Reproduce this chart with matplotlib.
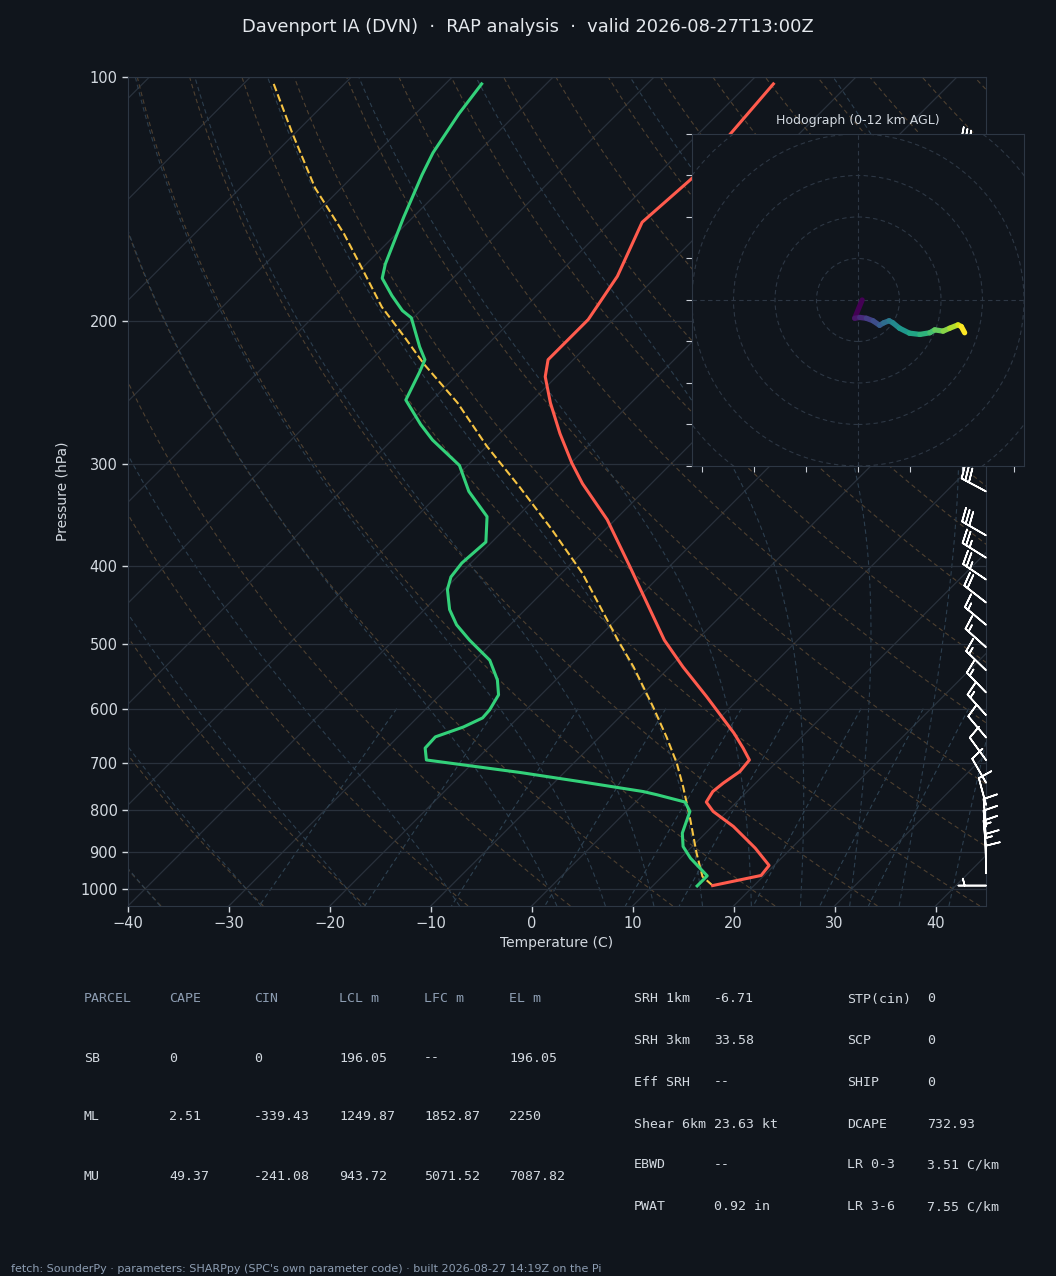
import numpy as np
import matplotlib
matplotlib.use('Agg')
import matplotlib.pyplot as plt
import matplotlib.transforms as mtransforms
from matplotlib.collections import LineCollection

# ---- sounding ----
t_pres = [102, 133, 151, 176, 199, 223, 234, 252, 275, 299, 317, 351, 401, 449, 494,
          533, 580, 643, 671, 694, 717, 741, 759, 782, 803, 838, 891, 936, 963, 991]
t_temp = [-57.5, -56.2, -56.8, -53.9, -52.5, -52.5, -51.1, -48.0, -44.0, -39.9, -36.8, -30.8,
          -23.9, -18.1, -13.2, -8.7, -3.4, 2.9, 5.3, 7.1, 7.3, 6.8, 6.6, 7.0, 8.6, 12.1,
          16.4, 19.5, 19.7, 15.9]

td_pres = [102, 111, 124, 132, 149, 170, 177, 186, 194, 198, 215, 223, 231, 250, 268, 280,
           301, 324, 348, 374, 397, 413, 428, 453, 473, 494, 523, 553, 577, 602, 616, 632,
           650, 671, 694, 719, 738, 759, 766, 782, 803, 854, 887, 917, 943, 964, 992]
td_temp = [-86.4, -85.7, -84.4, -83.3, -80.9, -78.1, -77.0, -74.3, -71.8, -70.2, -66.5,
           -64.7, -64.0, -62.6, -58.7, -56.0, -50.8, -47.3, -43.0, -40.6, -40.9, -40.6,
           -39.7, -37.5, -35.3, -32.5, -28.5, -25.8, -24.2, -23.6, -23.5, -24.5, -26.3,
           -26.2, -24.9, -14.4, -7.5, -0.3, 1.4, 4.9, 6.3, 7.7, 9.1, 11.0, 12.9, 14.4, 14.4]

parcel_pres = [102, 117, 137, 156, 174, 192, 209, 226, 252, 285, 320, 361, 409, 494, 533,
               597, 650, 700, 749, 815, 904, 966, 991]
parcel_temp = [-107.0, -100.4, -92.6, -85.2, -79.4, -74.2, -69.0, -64.3, -57.2, -50.0,
               -42.7, -35.3, -27.9, -17.8, -13.6, -7.7, -3.4, 0.2, 3.2, 6.8, 11.1, 14.0, 15.9]

# wind barbs (kt)
barb_pres = [124, 138, 153, 170, 190, 212, 236, 262, 290, 324, 367, 391, 416, 444, 473,
             504, 538, 573, 611, 651, 694, 740, 788, 838, 866, 891, 926, 957, 991]
barb_dir = [295, 295, 295, 295, 295, 295, 295, 295, 297, 298, 300, 302, 304, 308, 310,
            312, 314, 316, 318, 320, 324, 330, 345, 355, 355, 355, 358, 0, 270]
barb_spd = [30, 30, 30, 30, 30, 30, 30, 30, 30, 30, 30, 25, 25, 20, 15,
            15, 15, 15, 15, 10, 10, 10, 10, 10, 10, 15, 15, 10, 5]

# hodograph (0-12 km)
hodo_u = [1.0, -0.8, 0.4, 2.0, 3.6, 5.2, 6.2, 7.5, 8.4, 10.0, 12.4, 14.9, 17.3, 18.5,
          20.5, 22.1, 24.1, 24.9, 25.7]
hodo_v = [0.0, -4.4, -4.2, -4.4, -5.0, -6.1, -5.5, -5.0, -5.5, -6.8, -8.0, -8.3, -7.9,
          -7.2, -7.5, -6.8, -6.0, -6.4, -7.9]

title = 'Davenport IA (DVN)  \u00b7  RAP analysis  \u00b7  valid 2026-08-27T13:00Z'

parcel_cols = ['PARCEL', 'CAPE', 'CIN', 'LCL m', 'LFC m', 'EL m']
parcel_rows = [['SB', '0', '0', '196.05', '--', '196.05'],
               ['ML', '2.51', '-339.43', '1249.87', '1852.87', '2250'],
               ['MU', '49.37', '-241.08', '943.72', '5071.52', '7087.82']]
params_left = [('SRH 1km', '-6.71'), ('SRH 3km', '33.58'), ('Eff SRH', '--'),
               ('Shear 6km', '23.63 kt'), ('EBWD', '--'), ('PWAT', '0.92 in')]
params_right = [('STP(cin)', '0'), ('SCP', '0'), ('SHIP', '0'), ('DCAPE', '732.93'),
                ('LR 0-3', '3.51 C/km'), ('LR 3-6', '7.55 C/km')]

footer = ("fetch: SounderPy \u00b7 parameters: SHARPpy (SPC's own parameter code) "
          "\u00b7 built 2026-08-27 14:19Z on the Pi")

# ---- colours ----
BG = '#10151c'
SPINE = '#2d3744'
GRID = '#29313c'
TXT = '#d3d9e0'
DIM = '#8d9db2'

RD, CP, LV, EPS = 287.04, 1005.7, 2.501e6, 0.622

fig = plt.figure(figsize=(10.56, 12.76), dpi=100, facecolor=BG)
ax = fig.add_axes([0.1212, 0.2900, 0.8125, 0.6497], facecolor=BG)
ax.set_yscale('log')
P_BOT, P_TOP = 1050, 100
ax.set_ylim(P_BOT, P_TOP)
ax.set_xlim(-40, 45)

# skew factor so isotherms sit at 45 degrees on screen
bbox = ax.get_position()
w_px = bbox.width * fig.get_figwidth() * fig.dpi
h_px = bbox.height * fig.get_figheight() * fig.dpi
K = (85.0 / w_px) * h_px / np.log(P_BOT / P_TOP)


def skew(t, p):
    return np.asarray(t) + K * np.log(P_BOT / np.asarray(p, dtype=float))


pp = np.array([P_BOT, P_TOP], dtype=float)
for t0 in range(-130, 50, 10):
    ax.plot(skew(t0, pp), pp, color=GRID, lw=0.9, zorder=1)

# dry adiabats
pl = np.geomspace(P_BOT, P_TOP, 120)
for t0 in np.arange(-40, 246, 10):
    th = t0 + 273.15
    tt = th * (pl / 1000.0) ** (RD / CP) - 273.15
    ax.plot(skew(tt, pl), pl, color='#4e4030', lw=0.8, ls=(0, (4, 3)), zorder=1)


# moist adiabats
def dtdp(T, p):
    es = 6.112 * np.exp(17.67 * (T - 273.15) / (T - 29.65))
    rs = EPS * es / (p - es)
    return (RD * T + LV * rs) / (p * (CP + LV * LV * rs * EPS / (RD * T * T)))


def integrate(T0, ps):
    T = T0.copy()
    out = [T.copy()]
    for p0, p1 in zip(ps[:-1], ps[1:]):
        h = p1 - p0
        k1 = dtdp(T, p0)
        k2 = dtdp(T + h / 2 * k1, p0 + h / 2)
        k3 = dtdp(T + h / 2 * k2, p0 + h / 2)
        k4 = dtdp(T + h * k3, p1)
        T = T + h / 6 * (k1 + 2 * k2 + 2 * k3 + k4)
        out.append(T.copy())
    return np.array(out)


m_t0 = np.concatenate((np.arange(-40, 0, 10), np.arange(0, 46, 5))).astype(float) + 273.15
p_up = np.linspace(1000, 100, 181)
p_dn = np.linspace(1000, 1050, 11)
up = integrate(m_t0, p_up)
dn = integrate(m_t0, p_dn)
m_p = np.concatenate((p_dn[::-1], p_up[1:]))
m_T = np.vstack((dn[::-1], up[1:])) - 273.15
for i in range(len(m_t0)):
    ax.plot(skew(m_T[:, i], m_p), m_p, color='#2c3e4e', lw=0.8, ls=(0, (4, 3)), zorder=1)

# mixing ratio lines
pm = np.linspace(600, 1050, 40)
for w in [0.4, 1, 2, 4, 7, 10, 16, 24, 32]:
    wk = w / 1000.0
    e = pm * wk / (EPS + wk)
    lg = np.log(e / 6.112)
    td = 243.5 * lg / (17.67 - lg)
    ax.plot(skew(td, pm), pm, color='#2e4252', lw=0.8, ls=(0, (4, 3)), zorder=1)

# profiles
ax.plot(skew(parcel_temp, parcel_pres), parcel_pres, color='#f6c343', lw=1.5, ls='--', zorder=3)
ax.plot(skew(t_temp, t_pres), t_pres, color='#ff5b4d', lw=2.2, zorder=4)
ax.plot(skew(td_temp, td_pres), td_pres, color='#33d17a', lw=2.2, zorder=4)

# barbs on the right edge
bd = np.deg2rad(barb_dir)
bu = -np.array(barb_spd) * np.sin(bd)
bv = -np.array(barb_spd) * np.cos(bd)
btrans = mtransforms.blended_transform_factory(ax.transAxes, ax.transData)
ax.barbs(np.ones(len(barb_pres)), barb_pres, bu, bv, transform=btrans, color='white',
         length=6.3, linewidth=1.2, clip_on=False, zorder=5,
         sizes=dict(spacing=0.15, height=0.5))

ticks = [100, 200, 300, 400, 500, 600, 700, 800, 900, 1000]
ax.set_yticks(ticks)
ax.set_yticklabels([str(t) for t in ticks])
ax.yaxis.set_minor_locator(matplotlib.ticker.NullLocator())
ax.set_xticks(np.arange(-40, 41, 10))
ax.grid(axis='y', color=GRID, lw=0.9)
ax.tick_params(colors=TXT, labelsize=10.5, length=4, width=1)
for s in ax.spines.values():
    s.set_color(SPINE)
ax.set_xlabel('Temperature (C)', color=TXT, fontsize=10, labelpad=3)
ax.set_ylabel('Pressure (hPa)', color=TXT, fontsize=10, labelpad=8)

fig.text(0.5, 1 - 27 / 1276, title, ha='center', va='center', color='#e4e8ed', fontsize=12.9)

# hodograph inset
hx = fig.add_axes([0.6553, 0.6348, 0.3144, 0.2602], facecolor=BG)
hx.set_xlim(-40, 40)
hx.set_ylim(-40, 40)
for r in range(10, 60, 10):
    hx.add_patch(plt.Circle((0, 0), r, fill=False, color=SPINE, lw=0.8, ls=(0, (4, 3))))
hx.axhline(0, color=SPINE, lw=0.8, ls=(0, (4, 3)))
hx.axvline(0, color=SPINE, lw=0.8, ls=(0, (4, 3)))
pts = np.column_stack([hodo_u, hodo_v]).reshape(-1, 1, 2)
segs = np.concatenate([pts[:-1], pts[1:]], axis=1)
lc = LineCollection(segs, cmap='viridis', linewidths=3.8, capstyle='round')
lc.set_array(np.arange(len(segs)))
hx.add_collection(lc)
hx.set_xticks(np.arange(-37.5, 40, 12.5))
hx.set_yticks(np.arange(-40, 41, 10))
hx.tick_params(colors='#c9ced6', length=4, labelbottom=False, labelleft=False)
for s in hx.spines.values():
    s.set_color(SPINE)
hx.set_title('Hodograph (0-12 km AGL)', color=TXT, fontsize=9, pad=7)

# parcel table
col_x = [84, 169, 254, 339, 424, 509]
row_y = [999, 1058, 1117, 1176]
mono = 'DejaVu Sans Mono'
for cx, name in zip(col_x, parcel_cols):
    fig.text(cx / 1056, 1 - row_y[0] / 1276, name, color=DIM, fontsize=9.5,
             family=mono, va='center')
for ry, row in zip(row_y[1:], parcel_rows):
    for cx, val in zip(col_x, row):
        fig.text(cx / 1056, 1 - ry / 1276, val, color=TXT, fontsize=9.5, family=mono, va='center')

prow_y = [999, 1041, 1082, 1124, 1165, 1207]
for ry, (lab, val) in zip(prow_y, params_left):
    fig.text(634 / 1056, 1 - ry / 1276, lab, color=TXT, fontsize=9.5, family=mono, va='center')
    fig.text(714 / 1056, 1 - ry / 1276, val, color=TXT, fontsize=9.5, family=mono, va='center')
for ry, (lab, val) in zip(prow_y, params_right):
    fig.text(847 / 1056, 1 - ry / 1276, lab, color=TXT, fontsize=9.5, family=mono, va='center')
    fig.text(927 / 1056, 1 - ry / 1276, val, color=TXT, fontsize=9.5, family=mono, va='center')

fig.text(11 / 1056, 1 - 1269 / 1276, footer, color=DIM, fontsize=8, va='center')

fig.savefig('out.png', dpi=100, facecolor=BG)
